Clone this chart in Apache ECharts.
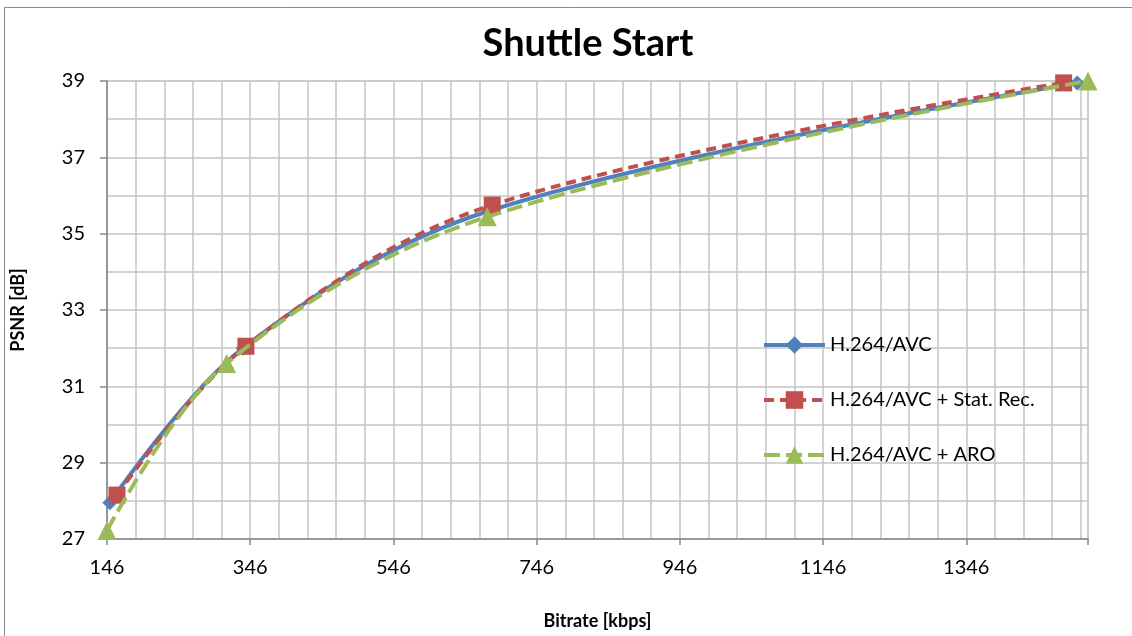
<!DOCTYPE html>
<html>
<head>
<meta charset="utf-8">
<script src="https://cdn.jsdelivr.net/npm/echarts@6/dist/echarts.min.js"></script>
<style>
  html, body { margin: 0; padding: 0; background: #fff; }
  #chart { width: 1132px; height: 636px; }
</style>
</head>
<body>
<div id="chart"></div>
<script>
// Rate-distortion points (bitrate in kbps, PSNR in dB)
const seriesNames = ['H.264/AVC', 'H.264/AVC + Stat. Rec.', 'H.264/AVC + ARO'];
const avcRate    = [150, 336, 680, 1501];
const avcPsnr    = [27.95, 32.0, 35.6, 38.95];
const statRate   = [160, 340, 684, 1482];
const statPsnr   = [28.15, 32.05, 35.75, 38.95];
const aroRate    = [146, 313, 677, 1516];
const aroPsnr    = [27.22, 31.6, 35.44, 39.0];

// Axis settings
const X_MIN = 146, X_MAX = 1516, X_MAJOR = 200, X_MINOR = 40;
const Y_MIN = 27, Y_MAX = 39, Y_MAJOR = 2, Y_MINOR = 1;

// The x axis is drawn relative to X_MIN so ticks start at 146
const pairs = (xs, ys) => xs.map((x, i) => [x - X_MIN, ys[i]]);

const colors = ['#4F81BD', '#C0504D', '#9BBB59'];
const labelFont = 'Lato, "Open Sans", "Liberation Sans", sans-serif';

const chart = echarts.init(document.getElementById('chart'), null, { renderer: 'canvas' });

const gridLine = { show: true, lineStyle: { color: '#c4c4c4', width: 1.5 } };

chart.setOption({
  animation: false,
  backgroundColor: '#fff',
  title: {
    text: 'Shuttle Start',
    left: 583, top: 20, textAlign: 'center',
    textStyle: { fontFamily: labelFont, fontWeight: 'bold', fontSize: 38, color: '#000' }
  },
  grid: { left: 107, right: 44, top: 81, bottom: 97, show: true, borderColor: '#c4c4c4', borderWidth: 1 },
  legend: {
    orient: 'vertical', left: 757, top: 330, itemGap: 35,
    itemWidth: 61, itemHeight: 22,
    lineStyle: { width: 4 },
    textStyle: { fontFamily: labelFont, fontSize: 20, color: '#000', padding: [0, 0, 0, 0] },
    data: seriesNames
  },
  xAxis: [{
    type: 'value', min: 0, max: X_MAX - X_MIN, interval: X_MINOR,
    name: 'Bitrate [kbps]', nameLocation: 'middle', nameGap: 73,
    nameTextStyle: { fontFamily: labelFont, fontWeight: 'bold', fontSize: 18, color: '#000' },
    axisLine: { show: true, onZero: false, lineStyle: { color: '#868686', width: 1.5 } },
    axisTick: { show: false },
    axisLabel: {
      fontFamily: labelFont, fontSize: 20, color: '#000', margin: 19,
      formatter: v => (Math.round(v) % X_MAJOR === 0 && v < X_MAX - X_MIN) ? String(v + X_MIN) : ''
    },
    splitLine: gridLine
  }, {
    type: 'value', min: 0, max: X_MAX - X_MIN, interval: X_MAJOR, position: 'bottom',
    axisLine: { show: false }, axisLabel: { show: false }, splitLine: { show: false },
    axisTick: { show: true, length: 6, lineStyle: { color: '#868686', width: 1.5 } }
  }],
  yAxis: [{
    type: 'value', min: Y_MIN, max: Y_MAX, interval: Y_MINOR,
    name: 'PSNR [dB]', nameLocation: 'middle', nameGap: 80, nameRotate: 90,
    nameTextStyle: { fontFamily: labelFont, fontWeight: 'bold', fontSize: 18, color: '#000' },
    axisLine: { show: true, onZero: false, lineStyle: { color: '#868686', width: 1.5 } },
    axisTick: { show: false },
    axisLabel: {
      fontFamily: labelFont, fontSize: 20, color: '#000', margin: 22,
      formatter: v => ((v - Y_MIN) % Y_MAJOR === 0) ? String(v) : ''
    },
    splitLine: gridLine
  }, {
    type: 'value', min: Y_MIN, max: Y_MAX, interval: Y_MAJOR, position: 'left',
    axisLine: { show: false }, axisLabel: { show: false }, splitLine: { show: false },
    axisTick: { show: true, length: 7, lineStyle: { color: '#868686', width: 1.5 } }
  }],
  series: [{
    name: seriesNames[0], type: 'line', smooth: 0.35, data: pairs(avcRate, avcPsnr),
    symbol: 'diamond', symbolSize: 15,
    itemStyle: { color: colors[0] },
    lineStyle: { color: colors[0], width: 4 }, z: 2
  }, {
    name: seriesNames[1], type: 'line', smooth: 0.35, data: pairs(statRate, statPsnr),
    symbol: 'rect', symbolSize: 17,
    itemStyle: { color: colors[1] },
    lineStyle: { color: colors[1], width: 4, type: [10, 6] }, z: 3
  }, {
    name: seriesNames[2], type: 'line', smooth: 0.35, data: pairs(aroRate, aroPsnr),
    symbol: 'triangle', symbolSize: 19,
    itemStyle: { color: colors[2] },
    lineStyle: { color: colors[2], width: 4, type: [16, 6] }, z: 4
  }],
  graphic: [{
    type: 'rect', silent: true, z: -1,
    shape: { x: 4.5, y: 7.5, width: 1200, height: 700 },
    style: { fill: null, stroke: '#8a8a8a', lineWidth: 1 }
  }]
});
</script>
</body>
</html>
